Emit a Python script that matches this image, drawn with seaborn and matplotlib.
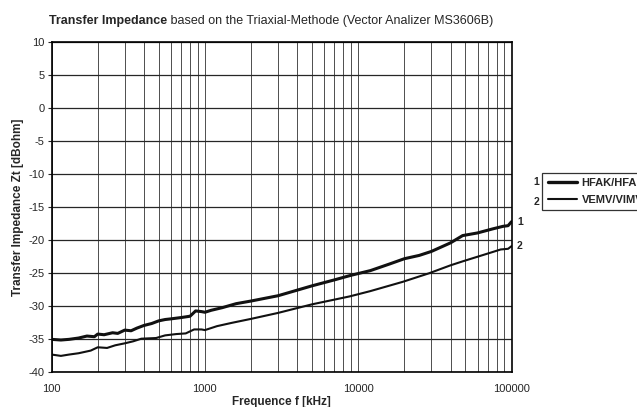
# Transfer impedance - triaxial method
import matplotlib
matplotlib.use("Agg")
import matplotlib.pyplot as plt
import matplotlib.ticker as mticker
from matplotlib.lines import Line2D
import numpy as np
import pandas as pd
import seaborn as sns

# data
freq_1 = [100, 115, 130, 150, 170, 190, 200, 220, 250, 270, 300, 330, 360, 400, 450,
          500, 550, 600, 700, 800, 870, 950, 1000, 1100, 1300, 1600, 2000, 3000,
          5000, 7000, 9000, 12000, 16000, 20000, 25000, 30000, 40000, 48000,
          60000, 75000, 88000, 95000, 100000]
zt_1 = [-35.0, -35.1, -35.0, -34.8, -34.5, -34.6, -34.2, -34.3, -34.0, -34.1, -33.6,
        -33.7, -33.3, -32.9, -32.6, -32.2, -32.0, -31.9, -31.7, -31.5, -30.7, -30.8,
        -30.9, -30.6, -30.2, -29.6, -29.2, -28.4, -26.9, -26.0, -25.3, -24.6, -23.6,
        -22.8, -22.3, -21.7, -20.4, -19.3, -18.9, -18.3, -17.9, -17.8, -17.2]

freq_2 = [100, 115, 130, 150, 180, 200, 230, 260, 300, 340, 385, 480, 550, 650, 750,
          850, 950, 1000, 1200, 1500, 2000, 3000, 5000, 8800, 12000, 19500, 29000,
          40000, 48000, 60000, 75000, 85000, 95000, 100000]
zt_2 = [-37.3, -37.5, -37.3, -37.1, -36.7, -36.2, -36.3, -35.9, -35.6, -35.3, -34.9,
        -34.8, -34.4, -34.2, -34.1, -33.5, -33.5, -33.6, -33.0, -32.5, -31.9, -31.0,
        -29.7, -28.5, -27.7, -26.3, -25.0, -23.8, -23.2, -22.5, -21.8, -21.4, -21.3,
        -20.9]

# legend labels run past the right edge in the reference
series_names = ["HFAK/HFAK", "VEMV/VIMV"]
y_ticks = [10, 5, 0, -5, -10, -15, -20, -25, -30, -35, -40]
x_ticks = [100, 1000, 10000, 100000]

df = pd.concat([
    pd.DataFrame({"f": freq_1, "zt": zt_1, "serie": series_names[0]}),
    pd.DataFrame({"f": freq_2, "zt": zt_2, "serie": series_names[1]}),
])

sns.set_style("white")
plt.rcParams["font.family"] = ["Liberation Sans", "DejaVu Sans"]
plt.rcParams["axes.unicode_minus"] = False

fig = plt.figure(figsize=(6.37, 4.07), dpi=100)
ax = fig.add_axes([0.081, 0.085, 0.722, 0.812])

sns.lineplot(data=df[df["serie"] == series_names[0]], x="f", y="zt", color="#111111",
             linewidth=2.2, ax=ax, legend=False)
sns.lineplot(data=df[df["serie"] == series_names[1]], x="f", y="zt", color="#111111",
             linewidth=1.5, ax=ax, legend=False)

ax.set_xscale("log")
ax.set_xlim(100, 100000)
ax.set_ylim(-40, 10)
ax.set_yticks(y_ticks)
ax.set_xticks(x_ticks)
ax.xaxis.set_major_formatter(mticker.FuncFormatter(lambda v, p: f"{int(round(v))}"))
ax.xaxis.set_minor_locator(mticker.LogLocator(base=10, subs=np.arange(2, 10)))
ax.xaxis.set_minor_formatter(mticker.NullFormatter())

ax.grid(True, which="major", axis="y", color="0.15", linewidth=0.9)
ax.grid(True, which="both", axis="x", color="0.3", linewidth=0.7)
for s in ax.spines.values():
    s.set_color("black")
    s.set_linewidth(1.2)
ax.tick_params(axis="y", which="major", direction="out", length=3, width=0.8,
               labelsize=8, pad=2, left=True)
ax.tick_params(axis="x", which="both", length=0, labelsize=8, pad=8)

ax.set_xlabel("Frequence f [kHz]", fontsize=8.5, weight="bold", labelpad=2)
ax.set_ylabel("Transfer Impedance Zt [dBohm]", fontsize=8.5, weight="bold", labelpad=3)

# curve numbers at the right end
ax.annotate("1", (100000, zt_1[-1]), xytext=(4, 0), textcoords="offset points",
            fontsize=7.5, weight="bold", va="center")
ax.annotate("2", (100000, zt_2[-1]), xytext=(4, 0), textcoords="offset points",
            fontsize=7.5, weight="bold", va="center")

# title: bold part + normal part
fig.canvas.draw()
t1 = fig.text(0.077, 0.94, "Transfer Impedance", fontsize=9, weight="bold")
fig.canvas.draw()
bb = t1.get_window_extent()
fig.text(bb.x1 / fig.bbox.width, 0.94,
         " based on the Triaxial-Methode (Vector Analizer MS3606B)", fontsize=9)

# legend outside right (cut by the figure edge like in the reference)
handles = [Line2D([0], [0], color="#111111", linewidth=2.4),
           Line2D([0], [0], color="#111111", linewidth=1.5)]
leg = fig.legend(handles, series_names, loc="upper left", bbox_to_anchor=(0.851, 0.576),
                 fontsize=8, frameon=True, fancybox=False, handlelength=2.6,
                 borderpad=0.5, labelspacing=0.6, handletextpad=0.45,
                 borderaxespad=0)
leg.get_frame().set_edgecolor("black")
leg.get_frame().set_linewidth(0.9)
for t in leg.get_texts():
    t.set_weight("bold")
fig.text(0.838, 0.553, "1", fontsize=7.5, weight="bold", va="center")
fig.text(0.838, 0.503, "2", fontsize=7.5, weight="bold", va="center")

fig.savefig("out.png", dpi=100)
